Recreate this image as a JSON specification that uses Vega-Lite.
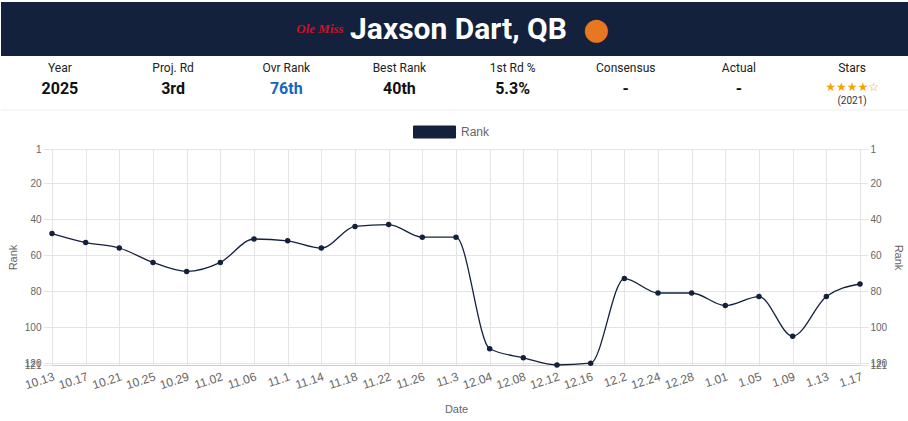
{
  "$schema": "https://vega.github.io/schema/vega-lite/v6.json",
  "padding": {"top": 2, "left": 0, "right": 0, "bottom": 0},
  "background": "white",
  "spacing": 0,
  "resolve": {"legend": {"color": "independent"}},
  "config": {"view": {"stroke": null}, "font": "Liberation Sans"},
  "vconcat": [
    {
      "width": 808,
      "height": 54,
      "data": {"values": [{"player": "Jaxson Dart, QB", "team": "Ole Miss"}]},
      "layer": [
        {"mark": {"type": "rect", "color": "#14213d"}, "encoding": {"x": {"value": -51}, "x2": {"value": 857}, "y": {"value": 0}, "y2": {"value": 54}}},
        {"mark": {"type": "text", "font": "Roboto", "fontWeight": "bold", "fontSize": 30, "color": "#ffffff", "baseline": "middle", "dx": 2.5, "dy": 1}, "encoding": {"text": {"field": "player"}}},
        {"mark": {"type": "text", "font": "Liberation Serif", "fontStyle": "italic", "fontWeight": "bold", "fontSize": 13, "color": "#ce1126", "baseline": "middle", "dx": -136}, "encoding": {"text": {"field": "team"}}},
        {"mark": {"type": "text", "font": "DejaVu Sans", "fontSize": 30, "color": "#e87722", "baseline": "middle", "dx": 140, "dy": 1, "text": "●"}, "encoding": {}}
      ]
    },
    {
      "width": 808,
      "height": 54,
      "data": {"values": [
        {"key": "Year", "value": "2025"},
        {"key": "Proj. Rd", "value": "3rd"},
        {"key": "Ovr Rank", "value": "76th"},
        {"key": "Best Rank", "value": "40th"},
        {"key": "1st Rd %", "value": "5.3%"},
        {"key": "Consensus", "value": "-"},
        {"key": "Actual", "value": "-"},
        {"key": "Stars", "value": "★★★★☆", "note": "(2021)"}
      ]},
      "layer": [
        {"mark": {"type": "text", "font": "Roboto", "fontSize": 12, "color": "#222222", "y": 12, "baseline": "middle"},
         "encoding": {"x": {"field": "key", "type": "nominal", "sort": null, "axis": null, "scale": {"type": "point", "padding": 0.07}}, "text": {"field": "key"}}},
        {"transform": [{"filter": "datum.key !== 'Stars'"}],
         "mark": {"type": "text", "font": "Roboto", "fontWeight": "bold", "fontSize": 16, "y": 33, "baseline": "middle"},
         "encoding": {"x": {"field": "key", "type": "nominal", "sort": null, "axis": null, "scale": {"type": "point", "padding": 0.07}}, "text": {"field": "value"},
           "color": {"condition": {"test": "datum.key === 'Ovr Rank'", "value": "#1565c0"}, "value": "#111111"}}},
        {"transform": [{"filter": "datum.key === 'Stars'"}],
         "mark": {"type": "text", "font": "DejaVu Sans", "fontSize": 12, "color": "#f5a300", "y": 31, "baseline": "middle"},
         "encoding": {"x": {"field": "key", "type": "nominal", "sort": null, "axis": null, "scale": {"type": "point", "padding": 0.07}}, "text": {"field": "value"}}},
        {"transform": [{"filter": "datum.key === 'Stars'"}],
         "mark": {"type": "text", "font": "Roboto", "fontSize": 10, "color": "#333333", "y": 45, "baseline": "middle"},
         "encoding": {"x": {"field": "key", "type": "nominal", "sort": null, "axis": null, "scale": {"type": "point", "padding": 0.07}}, "text": {"field": "note"}}},
        {"data": {"values": [{}]}, "mark": {"type": "rule", "color": "#eeeeee"}, "encoding": {"x": {"value": -51}, "x2": {"value": 857}, "y": {"value": 54}}}
      ]
    },
    {
      "width": 808,
      "height": 216,
      "data": {"values": [
        {"date": "10.13", "rank": 48},
        {"date": "10.17", "rank": 53},
        {"date": "10.21", "rank": 56},
        {"date": "10.25", "rank": 64},
        {"date": "10.29", "rank": 69},
        {"date": "11.02", "rank": 64},
        {"date": "11.06", "rank": 51},
        {"date": "11.1", "rank": 52},
        {"date": "11.14", "rank": 56},
        {"date": "11.18", "rank": 44},
        {"date": "11.22", "rank": 43},
        {"date": "11.26", "rank": 50},
        {"date": "11.3", "rank": 50},
        {"date": "12.04", "rank": 112},
        {"date": "12.08", "rank": 117},
        {"date": "12.12", "rank": 121},
        {"date": "12.16", "rank": 120},
        {"date": "12.2", "rank": 73},
        {"date": "12.24", "rank": 81},
        {"date": "12.28", "rank": 81},
        {"date": "1.01", "rank": 88},
        {"date": "1.05", "rank": 83},
        {"date": "1.09", "rank": 105},
        {"date": "1.13", "rank": 83},
        {"date": "1.17", "rank": 76}
      ]},
      "encoding": {
        "x": {"field": "date", "type": "nominal", "sort": null, "scale": {"type": "point", "padding": 0},
          "axis": {"title": "Date", "labelAngle": -18, "labelColor": "#666666", "labelFontSize": 12, "labelPadding": 6, "ticks": false,
            "domainColor": "#cccccc", "grid": true, "gridColor": "#e4e4e4", "titleColor": "#666666", "titleFontSize": 11,
            "titleFontWeight": "normal", "titlePadding": 13}}
      },
      "layer": [
        {
          "mark": {"type": "line", "interpolate": "monotone", "strokeWidth": 1.3},
          "encoding": {
            "y": {"field": "rank", "type": "quantitative", "scale": {"domain": [1, 121], "reverse": true, "nice": false, "zero": false},
              "axis": {"orient": "left", "title": ["", "Rank"], "titleLineHeight": 6, "values": [1, 20, 40, 60, 80, 100, 120, 121], "labelOverlap": false,
                "labelColor": "#666666", "labelFontSize": 10, "labelPadding": 2, "tickColor": "#e4e4e4", "tickSize": 9,
                "domainColor": "#e4e4e4", "grid": true, "gridColor": "#e4e4e4", "titleColor": "#666666", "titleFontSize": 11,
                "titleFontWeight": "normal", "titlePadding": 6}},
            "color": {"datum": "Rank", "type": "nominal", "scale": {"range": ["#14213d"]},
              "legend": {"orient": "none", "legendX": 362, "legendY": -37.5, "padding": 14, "title": null,
                "symbolType": "M-3.5,-1H3.5V1H-3.5Z", "symbolSize": 144, "labelOffset": 20, "labelColor": "#666666",
                "labelFontSize": 12,
                "encode": {"symbols": {"update": {"fill": {"value": "#14213d"}, "stroke": {"value": "#8a93a6"},
                  "strokeWidth": {"value": 1}, "shape": {"value": "M-3.5,-1H3.5V1H-3.5Z"}, "size": {"value": 144}, "opacity": {"value": 1}}}}}}
          }
        },
        {
          "mark": {"type": "point", "filled": true, "size": 30, "color": "#14213d", "opacity": 1},
          "encoding": {
            "y": {"field": "rank", "type": "quantitative", "scale": {"domain": [1, 121], "reverse": true, "nice": false, "zero": false},
              "axis": {"orient": "right", "title": "Rank", "values": [1, 20, 40, 60, 80, 100, 120, 121], "labelOverlap": false,
                "labelColor": "#666666", "labelFontSize": 10, "labelPadding": 2, "tickColor": "#e4e4e4", "tickSize": 8,
                "domainColor": "#e4e4e4", "grid": false, "titleColor": "#666666", "titleFontSize": 11,
                "titleFontWeight": "normal", "titlePadding": 6}}
          }
        }
      ],
      "resolve": {"axis": {"y": "independent"}}
    }
  ]
}
